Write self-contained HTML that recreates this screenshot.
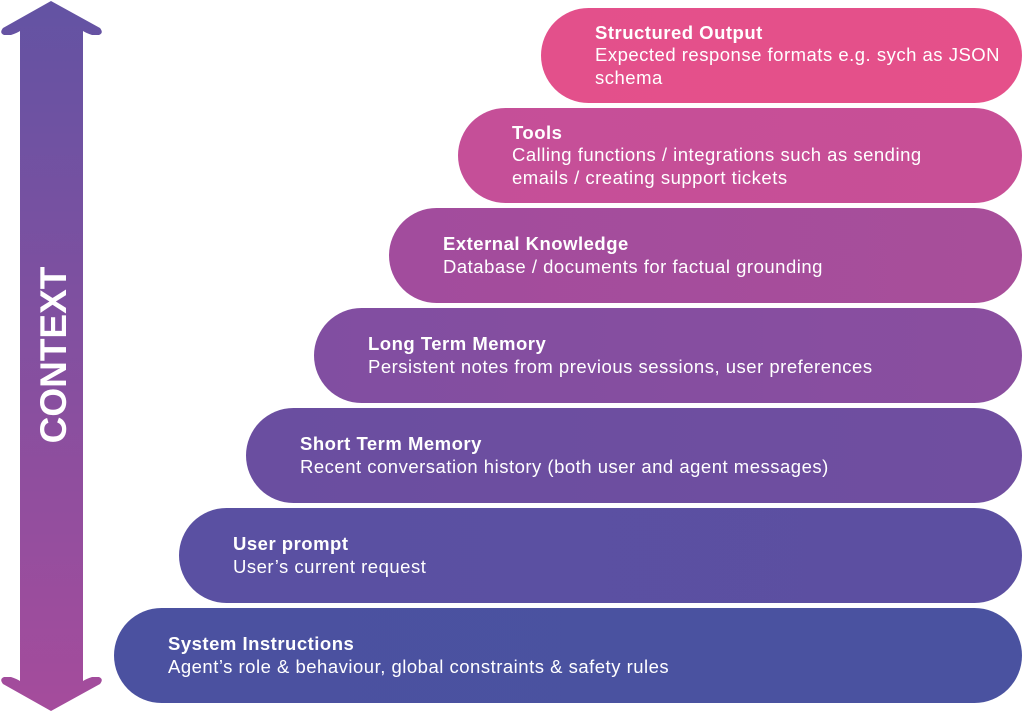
<!DOCTYPE html>
<html><head><meta charset="utf-8"><style>
html,body{margin:0;padding:0;background:#fff;}
body{width:1024px;height:712px;position:relative;overflow:hidden;font-family:"Liberation Sans",sans-serif;}
.p{position:absolute;right:2px;height:95px;border-radius:48px;color:#fff;display:flex;flex-direction:column;justify-content:center;box-sizing:border-box;padding-left:54px;font-size:18.5px;letter-spacing:0.5px;line-height:22.5px;white-space:nowrap;}
.p b{font-weight:bold;}
svg{position:absolute;left:0;top:0;}
</style></head><body>
<svg width="110" height="712" viewBox="0 0 110 712">
<defs><linearGradient id="g" x1="0" y1="0" x2="0" y2="1">
<stop offset="0" stop-color="#6353a3"/><stop offset="1" stop-color="#a54c9c"/></linearGradient></defs>
<path d="M51,1 L100,28 Q104,33 99,35 L92,35 Q86,33 83,31 L83,681 Q86,679 92,677 L99,677 Q104,679 100,684 L51,711 L3,684 Q-1,679 4,677 L11,677 Q17,679 20,681 L20,31 Q17,33 11,35 L4,35 Q-1,33 3,28 Z" fill="url(#g)"/>
<text transform="translate(66,355) rotate(-90)" text-anchor="middle" fill="#fff" font-family="Liberation Sans" font-weight="bold" font-size="37">CONTEXT</text>
</svg>
<div class="p" style="left:541px;top:8px;background:linear-gradient(90deg,#e3508b,#e5508a);"><b>Structured Output</b><span>Expected response formats e.g. sych as JSON<br>schema</span></div>
<div class="p" style="left:458px;top:108px;background:linear-gradient(90deg,#c54f98,#c84f96);"><b>Tools</b><span>Calling functions / integrations such as sending<br>emails / creating support tickets</span></div>
<div class="p" style="left:389px;top:208px;background:linear-gradient(90deg,#a24c9d,#a84e9a);"><b>External Knowledge</b><span>Database / documents for factual grounding</span></div>
<div class="p" style="left:314px;top:308px;background:linear-gradient(90deg,#814ea1,#8a4e9f);"><b>Long Term Memory</b><span>Persistent notes from previous sessions, user preferences</span></div>
<div class="p" style="left:246px;top:408px;background:linear-gradient(90deg,#6a4ea0,#704ea0);"><b>Short Term Memory</b><span>Recent conversation history (both user and agent messages)</span></div>
<div class="p" style="left:179px;top:508px;background:linear-gradient(90deg,#5a50a2,#5c4fa1);"><b>User prompt</b><span>User’s current request</span></div>
<div class="p" style="left:114px;top:608px;background:linear-gradient(90deg,#4b51a0,#4a52a0);"><b>System Instructions</b><span>Agent’s role &amp; behaviour, global constraints &amp; safety rules</span></div>
</body></html>
